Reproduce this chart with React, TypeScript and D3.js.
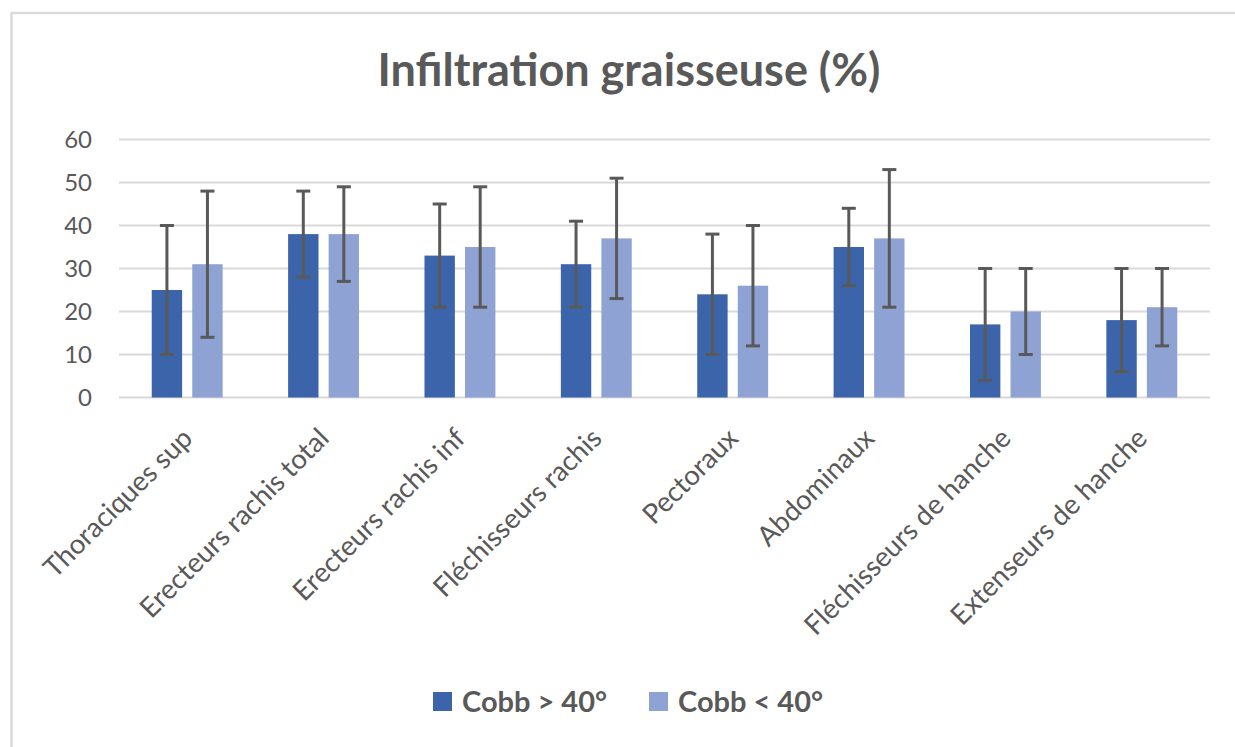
import React from "react";
import * as d3 from "d3";

const categories = [
  "Thoraciques sup",
  "Erecteurs rachis total",
  "Erecteurs rachis inf",
  "Fléchisseurs rachis",
  "Pectoraux",
  "Abdominaux",
  "Fléchisseurs de hanche",
  "Extenseurs de hanche",
];
const seriesNames = ["Cobb > 40°", "Cobb < 40°"];
const cobbSup = [25, 38, 33, 31, 24, 35, 17, 18];
const cobbSupHigh = [40, 48, 45, 41, 38, 44, 30, 30];
const cobbSupLow = [10, 28, 21, 21, 10, 26, 4, 6];
const cobbInf = [31, 38, 35, 37, 26, 37, 20, 21];
const cobbInfHigh = [48, 49, 49, 51, 40, 53, 30, 30];
const cobbInfLow = [14, 27, 21, 23, 12, 21, 10, 12];
const yTicks = [0, 10, 20, 30, 40, 50, 60];
const title = "Infiltration graisseuse (%)";

const colors = ["#3c64ab", "#8ea3d3"];
const FONT = "Lato, 'Open Sans', sans-serif";
const TXT = "#595959";

export default function App() {
  const W = 1235, H = 747;
  const x0 = d3.scaleBand<string>().domain(categories).range([119, 1210]).paddingInner(0.48).paddingOuter(0.24);
  const x1 = d3.scaleBand<number>().domain([0, 1]).range([0, x0.bandwidth()]).paddingInner(0.25);
  const y = d3.scaleLinear().domain([0, 60]).range([397.5, 139.5]);

  const series = [
    { vals: cobbSup, hi: cobbSupHigh, lo: cobbSupLow },
    { vals: cobbInf, hi: cobbInfHigh, lo: cobbInfLow },
  ];

  return (
    <svg width={W} height={H} style={{ position: "absolute", left: 0, top: 0, background: "#fff" }}>
      <rect x={11.5} y={13} width={W + 20} height={H + 20} fill="#fff" stroke="#d9d9d9" strokeWidth={2.5} />
      <text x={629} y={86} textAnchor="middle" fontFamily={FONT} fontWeight="bold" fontSize={45} fill={TXT}>
        {title}
      </text>
      {yTicks.map((t) => (
        <g key={t}>
          <line x1={119} x2={1210} y1={y(t)} y2={y(t)} stroke="#d9d9d9" strokeWidth={2} />
          <text x={92} y={y(t)} dy="0.36em" textAnchor="end" fontFamily={FONT} fontSize={24} fill={TXT}>
            {t}
          </text>
        </g>
      ))}
      {categories.map((c, i) => (
        <g key={c} transform={`translate(${x0(c)!},0)`}>
          {series.map((s, k) => {
            const bx = x1(k)!;
            const bw = x1.bandwidth();
            const cx = bx + bw / 2;
            return (
              <g key={k}>
                <rect x={bx} y={y(s.vals[i])} width={bw} height={y(0) - y(s.vals[i])} fill={colors[k]} />
                <line x1={cx} x2={cx} y1={y(s.hi[i])} y2={y(s.lo[i])} stroke="#595959" strokeWidth={3} />
                <line x1={cx - 7} x2={cx + 7} y1={y(s.hi[i])} y2={y(s.hi[i])} stroke="#595959" strokeWidth={3} />
                <line x1={cx - 7} x2={cx + 7} y1={y(s.lo[i])} y2={y(s.lo[i])} stroke="#595959" strokeWidth={3} />
              </g>
            );
          })}
        </g>
      ))}
      {categories.map((c) => {
        const cx = x0(c)! + x0.bandwidth() / 2;
        return (
          <text
            key={c}
            transform={`translate(${cx + 7},440) rotate(-45)`}
            textAnchor="end"
            fontFamily={FONT}
            fontSize={27.5}
            fill={TXT}
          >
            {c}
          </text>
        );
      })}
      {seriesNames.map((n, k) => {
        const lx = k === 0 ? 433 : 649;
        return (
          <g key={n}>
            <rect x={lx} y={692} width={19} height={19} fill={colors[k]} />
            <text x={lx + 29} y={712} fontFamily={FONT} fontWeight="bold" fontSize={29} fill={TXT}>
              {n}
            </text>
          </g>
        );
      })}
    </svg>
  );
}
